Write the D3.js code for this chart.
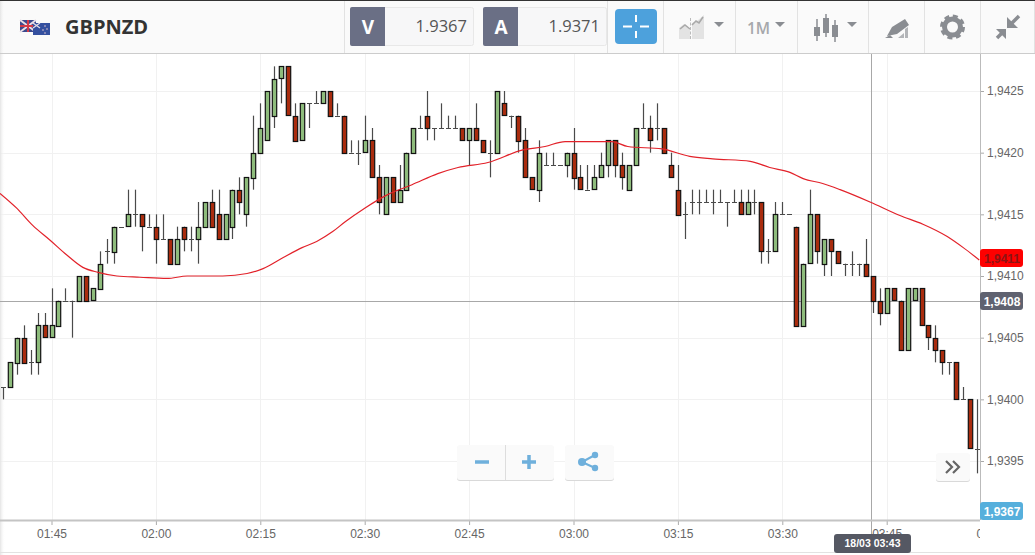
<!DOCTYPE html>
<html>
<head>
<meta charset="utf-8">
<script src="https://cdnjs.cloudflare.com/ajax/libs/d3/7.8.5/d3.min.js"></script>
<style>
  html, body { margin: 0; padding: 0; background: #fff; overflow: hidden; }
  svg { display: block; }
  .ax text { font-family: "Liberation Sans", Arial, sans-serif; font-size: 12px; fill: #666; }
  .ax line { stroke: #aaa; }
  .ax .domain { display: none; }
  .hd { font-family: "Open Sans", sans-serif; }
  .lb { font-family: "Liberation Sans", Arial, sans-serif; font-weight: bold; }
</style>
</head>
<body>
<div id="chart"></div>
<script>
// one candle per minute, first one at 01:38. prices are pips above 1.9400
var firstCandle = Date.UTC(2018, 2, 18, 1, 38);
var basePrice = 1.94;

var opens = [1,1,3,5,3,3,6,5,6,8, 8,8,10,8,9,12,12,14,14,15, 15,14,14,13,13,11,14,13,13,14, 16,15,13,14,17,15,18,20,21,23,
  26,27,23,21,24,24,24,25,23,23, 20,20,20,21,18,15,18,16,17,20, 22,23,22,22,22,22,22,21,22,21, 20,20,24,23,23,21,18,17,19,19,
  19,19,20,18,17,17,18,19,21,19, 17,19,22,22,22,22,19,17,15,16, 16,16,16,16,16,16,16,15,16,16, 12,12,15,15,14,6,11,15,11,13,
  12,11,11,11,11,10,8,7,9,8, 4,8,9,6,5,4,3,3,0,0,-4];
var closes = [1,3,5,3,3,6,5,6,8,8, 8,10,8,9,11,12,14,14,15,15, 14,14,13,13,11,13,13,13,14,16, 14,13,15,17,16,18,20,22,25,26,
  27,23,21,24,24,24,25,23,23,20, 20,20,21,18,16,18,16,17,20,22, 22,22,22,22,22,22,21,22,21,20, 20,25,23,23,21,18,17,20,19,19,
  19,20,18,17,17,18,19,21,19,18, 19,22,22,21,22,20,18,15,15,16, 16,16,16,16,16,16,15,16,16,12, 12,15,15,15,6,11,15,12,13,12,
  11,11,11,11,10,8,7,9,8,4, 9,9,6,5,4,3,3,0,0,-4,-4];
var highs = [1,3,5,6,4,7,7,9,8,9, 8,10,10,9,12,13,14,14,17,17, 15,15,15,15,13,14,14,14,16,16, 17,17,15,17,18,18,23,24,25,27,
  27,27,24,24,24,25,25,25,24,23, 21,21,23,22,19,18,18,19,20,22, 23,25,22,24,23,23,22,22,24,21, 21,25,25,23,23,22,18,21,20,20,
  19,20,22,19,19,19,20,21,21,20, 19,22,24,23,24,22,20,19,16,17, 17,17,17,17,16,17,17,17,17,16, 13,16,16,15,14,11,17,15,13,13,
  12,11,12,11,13,10,9,9,9,8, 9,9,9,6,6,4,3,3,1,0,0];
var lows = [0,1,2,3,2,2,5,5,6,8, 5,8,8,8,9,11,11,14,14,14, 12,14,11,13,11,11,12,12,11,14, 14,13,13,13,15,14,17,20,21,22,
  24,23,21,21,22,24,24,23,23,20, 20,19,20,18,15,15,16,16,17,20, 22,21,21,22,22,22,21,19,21,20, 18,20,23,22,20,18,17,16,19,19,
  19,18,17,17,17,17,18,18,18,17, 17,19,22,20,21,20,18,15,13,15, 15,16,15,16,14,16,15,15,15,11, 11,12,15,15,6,6,11,11,10,10,
  11,10,10,10,10,7,6,7,8,4, 4,8,6,4,3,2,2,0,0,-4,-6];

// moving average: minutes after 01:45, pips above 1.9400
var maMinutes = [-7.4,-5,-2.7,-0.2,2.2,4.5,6.7,9.4,12.7,16.6,19.5,24.6,28.1,30.4,33.3,36,38.1,40.4,42.2,45,48.3,51.8,55.5,58.4,62.7,67.6,70.9,73.8,76.6,80.5,82.8,87.7,91.7,95,100.4,103.2,106.1,108,110.8,113.3,117.6,121.9,125.2,128.7,131,133.3];
var maValues = [16.7,15.5,14.1,12.9,11.7,10.7,10.3,10,9.9,9.8,10,10,10.2,10.6,11.5,12.3,12.8,13.6,14.4,15.5,16.6,17.4,18.3,18.8,19.2,20.2,20.5,20.9,20.9,20.9,20.5,20.3,19.7,19.5,19.3,18.8,18.4,17.9,17.5,17,16,14.9,14.2,13.2,12.3,11.3];

var priceTicks = [1.9425, 1.9420, 1.9415, 1.9410, 1.9405, 1.9400, 1.9395];
var symbol = "GBPNZD", bidPrice = "1.9367", askPrice = "1.9371";
var maLabel = "1,9411", crossLabel = "1,9408", lastLabel = "1,9367", crossDate = "18/03 03:43";

var width = 1035, height = 555;
var plotRight = 980, plotTop = 54, plotBottom = 520;

var svg = d3.select("#chart").append("svg").attr("width", width).attr("height", height);

var defs = svg.append("defs");
defs.append("clipPath").attr("id", "plotClip").append("rect")
    .attr("x", 0).attr("y", 0).attr("width", plotRight).attr("height", height);
var shade = defs.append("linearGradient").attr("id", "leftShade");
shade.append("stop").attr("offset", 0).attr("stop-color", "#e4e4e4");
shade.append("stop").attr("offset", 1).attr("stop-color", "#fff").attr("stop-opacity", 0);

var minute = 60000;
var x = d3.scaleUtc()
    .domain([new Date(firstCandle + 7 * minute), new Date(firstCandle + 22 * minute)])
    .range([51.5, 155.9]);
var y = d3.scaleLinear().domain([1.9425, 1.9395]).range([91, 461]);

function price(p) { return basePrice + p / 10000; }
function px(v) { return Math.round(v) + 0.5; }

var candles = opens.map(function (o, i) {
    return { t: new Date(firstCandle + i * minute), o: price(o), c: price(closes[i]), h: price(highs[i]), l: price(lows[i]) };
});

var timeTicks = d3.utcMinute.every(15).range(new Date(firstCandle), new Date(firstCandle + 143 * minute));

// grid
var grid = svg.append("g").attr("clip-path", "url(#plotClip)");
grid.selectAll(".gv").data(timeTicks).join("line")
    .attr("x1", d => px(x(d))).attr("x2", d => px(x(d)))
    .attr("y1", plotTop).attr("y2", plotBottom)
    .attr("stroke", "#f1f1f1");
grid.selectAll(".gh").data(priceTicks).join("line")
    .attr("x1", 0).attr("x2", plotRight)
    .attr("y1", d => px(y(d))).attr("y2", d => px(y(d)))
    .attr("stroke", "#f1f1f1");

svg.append("rect").attr("x", 0).attr("y", 0).attr("width", 5).attr("height", height).attr("fill", "url(#leftShade)");

// crosshair
svg.append("line").attr("x1", 0).attr("x2", plotRight).attr("y1", px(y(price(8)))).attr("y2", px(y(price(8))))
    .attr("stroke", "#a8a8a8");
svg.append("line").attr("x1", 871.5).attr("x2", 871.5).attr("y1", plotTop).attr("y2", 534).attr("stroke", "#a8a8a8");

// candles
var plot = svg.append("g").attr("clip-path", "url(#plotClip)");
var candle = plot.selectAll("g").data(candles).join("g");
candle.append("line")
    .attr("x1", d => px(x(d.t))).attr("x2", d => px(x(d.t)))
    .attr("y1", d => y(d.h)).attr("y2", d => y(d.l))
    .attr("stroke", "#4a4a4a").attr("stroke-width", 1.2);
candle.filter(d => d.o == d.c).append("line")
    .attr("x1", d => px(x(d.t)) - 2.5).attr("x2", d => px(x(d.t)) + 2.5)
    .attr("y1", d => px(y(d.o))).attr("y2", d => px(y(d.o)))
    .attr("stroke", "#4a4a4a");
candle.filter(d => d.o != d.c).append("rect")
    .attr("x", d => px(x(d.t)) - 2.2)
    .attr("y", d => px(y(Math.max(d.o, d.c))))
    .attr("width", 4.4)
    .attr("height", d => Math.round(Math.abs(y(d.o) - y(d.c))))
    .attr("fill", d => d.c > d.o ? "#8ebc7c" : "#a92c0e")
    .attr("stroke", "#111").attr("stroke-width", 1.2);

// moving average
var maLine = d3.line()
    .x((d, i) => x(new Date(firstCandle + (7 + maMinutes[i]) * minute)))
    .y(d => y(price(d)))
    .curve(d3.curveMonotoneX);
plot.append("path").datum(maValues).attr("d", maLine)
    .attr("fill", "none").attr("stroke", "#e2222a").attr("stroke-width", 1.2);

// axes
var xAxis = d3.axisBottom(x).tickValues(timeTicks).tickSize(5).tickPadding(4)
    .tickFormat(d3.utcFormat("%H:%M"));
svg.append("g").attr("class", "ax").attr("clip-path", "url(#plotClip)")
    .attr("transform", "translate(0," + plotBottom + ")").call(xAxis);

var yAxis = d3.axisRight(y).tickValues(priceTicks).tickSize(4).tickPadding(3)
    .tickFormat(d => d3.format(".4f")(d).replace(".", ","));
svg.append("g").attr("class", "ax").attr("transform", "translate(" + plotRight + ",0)").call(yAxis);

svg.append("line").attr("x1", 0).attr("x2", plotRight).attr("y1", plotBottom + 0.5).attr("y2", plotBottom + 0.5)
    .attr("stroke", "#c4c4c4").attr("stroke-width", 2);
svg.append("line").attr("x1", plotRight + 0.5).attr("x2", plotRight + 0.5).attr("y1", plotTop).attr("y2", plotBottom)
    .attr("stroke", "#bbb");
svg.append("line").attr("x1", 0).attr("x2", width).attr("y1", 552.5).attr("y2", 552.5).attr("stroke", "#e2e2e2");

function priceBox(cy, fill, color, label, weight) {
    svg.append("rect").attr("x", 980).attr("y", cy - 9).attr("width", 43).attr("height", 18).attr("rx", 3).attr("fill", fill);
    svg.append("text").attr("class", "lb").attr("x", 1002).attr("y", cy + 4.5).attr("text-anchor", "middle")
        .attr("font-size", 12).attr("font-weight", weight).attr("fill", color).text(label);
}
priceBox(258, "#fe0000", "#8c1414", maLabel, "normal");
priceBox(301, "#5f6270", "#fff", crossLabel, "bold");
priceBox(511, "#56afdc", "#fff", lastLabel, "bold");

svg.append("rect").attr("x", 834).attr("y", 534).attr("width", 77).attr("height", 19).attr("rx", 3).attr("fill", "#555863");
svg.append("text").attr("class", "lb").attr("x", 872.5).attr("y", 547).attr("text-anchor", "middle")
    .attr("font-size", 10.5).attr("fill", "#fff").text(crossDate);

// header
var hd = svg.append("g");
hd.append("rect").attr("width", width).attr("height", 53).attr("fill", "#fafafa");
hd.append("line").attr("x1", 0).attr("x2", width).attr("y1", 0.5).attr("y2", 0.5).attr("stroke", "#333");
hd.append("line").attr("x1", 0).attr("x2", width).attr("y1", 53.5).attr("y2", 53.5).attr("stroke", "#ccc");
hd.append("rect").attr("width", 5).attr("y", 1).attr("height", 52).attr("fill", "url(#leftShade)");
[344, 607, 663, 735, 797, 868, 924, 980, 1034].forEach(function (s) {
    hd.append("line").attr("x1", s + 0.5).attr("x2", s + 0.5).attr("y1", 1).attr("y2", 53).attr("stroke", "#e2e2e2");
});

// flags
hd.append("rect").attr("x", 20).attr("y", 20).attr("width", 16).attr("height", 12).attr("fill", "#3b4a8e");
hd.append("path").attr("d", "M20,20L36,32M36,20L20,32").attr("stroke", "#e9dfe6").attr("stroke-width", 2);
hd.append("path").attr("d", "M28,20V32M20,26H36").attr("stroke", "#d23b48").attr("stroke-width", 2);
hd.append("rect").attr("x", 33).attr("y", 23).attr("width", 17).attr("height", 12).attr("fill", "#34509f");
hd.append("path").attr("d", "M33,23L40,28M40,23L33,28").attr("stroke", "#e9dfe6").attr("stroke-width", 1.2);
hd.append("g").selectAll("circle").data([[45, 26], [47, 29], [43, 30], [45, 33]]).join("circle")
    .attr("cx", d => d[0]).attr("cy", d => d[1]).attr("r", 0.8).attr("fill", "#e8c8d0");

hd.append("text").attr("class", "hd").attr("x", 65).attr("y", 34).attr("font-size", 20).attr("font-weight", 700)
    .attr("fill", "#333").text(symbol);

function quoteBox(bx, letter, value) {
    hd.append("rect").attr("x", bx + 0.5).attr("y", 7.5).attr("width", 123).attr("height", 38).attr("rx", 2)
        .attr("fill", "#f7f7f8").attr("stroke", "#e8e8e8");
    hd.append("path").attr("d", "M" + (bx + 35) + ",7H" + (bx + 2) + "a2,2 0 0 0 -2,2V44a2,2 0 0 0 2,2H" + (bx + 35) + "Z").attr("fill", "#6a6f85");
    hd.append("text").attr("class", "hd").attr("x", bx + 18).attr("y", 34).attr("text-anchor", "middle")
        .attr("font-size", 19).attr("font-weight", 700).attr("fill", "#fff").text(letter);
    hd.append("text").attr("class", "hd").attr("x", bx + 117).attr("y", 32).attr("text-anchor", "end")
        .attr("font-size", 16.5).attr("fill", "#555").text(value);
}
quoteBox(350, "V", bidPrice);
quoteBox(483, "A", askPrice);

// blue crosshair button
hd.append("rect").attr("x", 615).attr("y", 9).attr("width", 42).attr("height", 35).attr("rx", 4).attr("fill", "#4da1dc");
hd.append("path").attr("d", "M623,26.5H632M640,26.5H649M636,15V22M636,31V38").attr("stroke", "#fff").attr("stroke-width", 2);

// toolbar icons
var grey = "#8a8d92";
hd.append("path").attr("d", "M679,39V28L684,24L690,29V39Z").attr("fill", "#e3e3e3");
hd.append("path").attr("d", "M692,39V23L697,21L704,15V39Z").attr("fill", "#e3e3e3");
hd.append("path").attr("d", "M680,29L685,25L690,29M692,25L696,21L699,23L703,17").attr("fill", "none").attr("stroke", "#a9a9a9").attr("stroke-width", 1.6);
hd.append("line").attr("x1", 690.5).attr("x2", 690.5).attr("y1", 18).attr("y2", 39).attr("stroke", "#bbb").attr("stroke-dasharray", "3,1.5");
function caret(cx, cy) {
    hd.append("path").attr("d", "M" + (cx - 5) + "," + cy + "H" + (cx + 5) + "L" + cx + "," + (cy + 5) + "Z").attr("fill", grey);
}
caret(719, 22);
hd.append("text").attr("class", "hd").attr("x", 747).attr("y", 34).attr("font-size", 15.5).attr("font-weight", 600).attr("fill", "#a6a8ab").text("1M");
caret(780, 22);
[[817, 19, 41, 27, 36], [826, 14, 37, 18, 33], [835, 20, 42, 25, 37]].forEach(function (c) {
    hd.append("line").attr("x1", c[0]).attr("x2", c[0]).attr("y1", c[1]).attr("y2", c[2]).attr("stroke", grey).attr("stroke-width", 1.5);
    hd.append("rect").attr("x", c[0] - 3).attr("y", c[3]).attr("width", 6).attr("height", c[4] - c[3]).attr("fill", grey);
});
caret(852, 22);
// drawing tool
hd.append("path").attr("d", "M887,36L892,27L905,19L909,25L897,34Z").attr("fill", grey);
hd.append("path").attr("d", "M885,38L890,35L893,38Z").attr("fill", grey);
hd.append("path").attr("d", "M898,38L904,33V38ZM905,38V29L908,27V38Z").attr("fill", "#b3b5b8");
// gear
hd.append("circle").attr("cx", 952.5).attr("cy", 27).attr("r", 8).attr("fill", "none").attr("stroke", grey).attr("stroke-width", 5);
hd.append("circle").attr("cx", 952.5).attr("cy", 27).attr("r", 11).attr("fill", "none").attr("stroke", grey).attr("stroke-width", 3).attr("stroke-dasharray", "5,3.64");
// collapse arrows
hd.append("path").attr("d", "M1007,17V28H1018ZM996,29H1006V39Z").attr("fill", grey);
hd.append("path").attr("d", "M1019,16L1011,24M997,38L1002,33").attr("fill", "none").attr("stroke", grey).attr("stroke-width", 3.5);

// zoom and share buttons
function softBox(bx, by, w, h) {
    svg.append("rect").attr("x", bx).attr("y", by + 1).attr("width", w).attr("height", h).attr("rx", 3).attr("fill", "#d9d9d9");
    svg.append("rect").attr("x", bx).attr("y", by).attr("width", w).attr("height", h).attr("rx", 3).attr("fill", "#fafafa");
}
softBox(457, 445, 97, 35);
softBox(565, 445, 49, 35);
svg.append("line").attr("x1", 505.5).attr("x2", 505.5).attr("y1", 445).attr("y2", 480).attr("stroke", "#ddd");
svg.append("path").attr("d", "M475,462H489M522,462H536M529,455V469").attr("stroke", "#6fb0dc").attr("stroke-width", 3.5).attr("fill", "none");
svg.append("path").attr("d", "M582,462L595,455M582,462L595,468").attr("stroke", "#6fb0dc").attr("stroke-width", 2).attr("fill", "none");
svg.append("g").selectAll("circle").data([[582, 462, 4], [595, 455, 3.2], [595, 468, 3.2]]).join("circle")
    .attr("cx", d => d[0]).attr("cy", d => d[1]).attr("r", d => d[2]).attr("fill", "#6fb0dc");

softBox(936, 453, 34, 28);
svg.append("path").attr("d", "M946,461L952,467L946,473M953,461L959,467L953,473").attr("fill", "none").attr("stroke", "#666").attr("stroke-width", 2.2);
</script>
</body>
</html>
